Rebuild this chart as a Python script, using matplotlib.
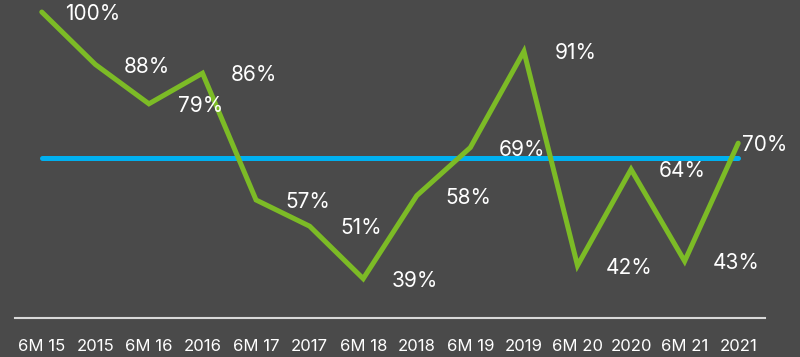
import numpy as np
import matplotlib
matplotlib.use("Agg")
import matplotlib.pyplot as plt

categories = ["6M 15", "2015", "6M 16", "2016", "6M 17", "2017", "6M 18",
              "2018", "6M 19", "2019", "6M 20", "2020", "6M 21", "2021"]
values = [100, 88, 79, 86, 57, 51, 39, 58, 69, 91, 42, 64, 43, 70]
average = 66.7

bg = "#4a4a4a"
green = "#7cbb26"
blue = "#00b0f0"

plt.rcParams['font.family'] = ['Inter', 'DejaVu Sans']

fig = plt.figure(figsize=(8.0, 3.57), dpi=100, facecolor=bg)
ax = fig.add_axes([15/800, 39/357, 750/800, 318/357])
ax.set_facecolor(bg)

x = np.arange(len(categories))
ax.plot(x, values, color=green, lw=3.6, solid_capstyle='round',
        solid_joinstyle='miter', clip_on=False, zorder=3)
ax.plot([x[0], x[-1]], [average, average], color=blue, lw=3.6,
        solid_capstyle='round', clip_on=False, zorder=2)

for i, v in enumerate(values):
    dx = 37 if i < len(values) - 1 else 19
    ax.annotate(f"{v}%", (x[i], v), xytext=(dx, -1.5), textcoords='offset points',
                ha='center', va='center', color='white', fontsize=15,
                annotation_clip=False, zorder=4)

ax.set_xlim(-0.5, len(categories) - 0.5)
ax.set_ylim(30, 102.75)
ax.set_xticks(x)
ax.set_xticklabels(categories, color='white', fontsize=12)
ax.tick_params(axis='x', length=0, pad=15)
ax.set_yticks([])
for s in ['top', 'right', 'left']:
    ax.spines[s].set_visible(False)
ax.spines['bottom'].set_color('#d9d9d9')
ax.spines['bottom'].set_linewidth(1.5)

fig.savefig("out.png", dpi=100, facecolor=bg)
